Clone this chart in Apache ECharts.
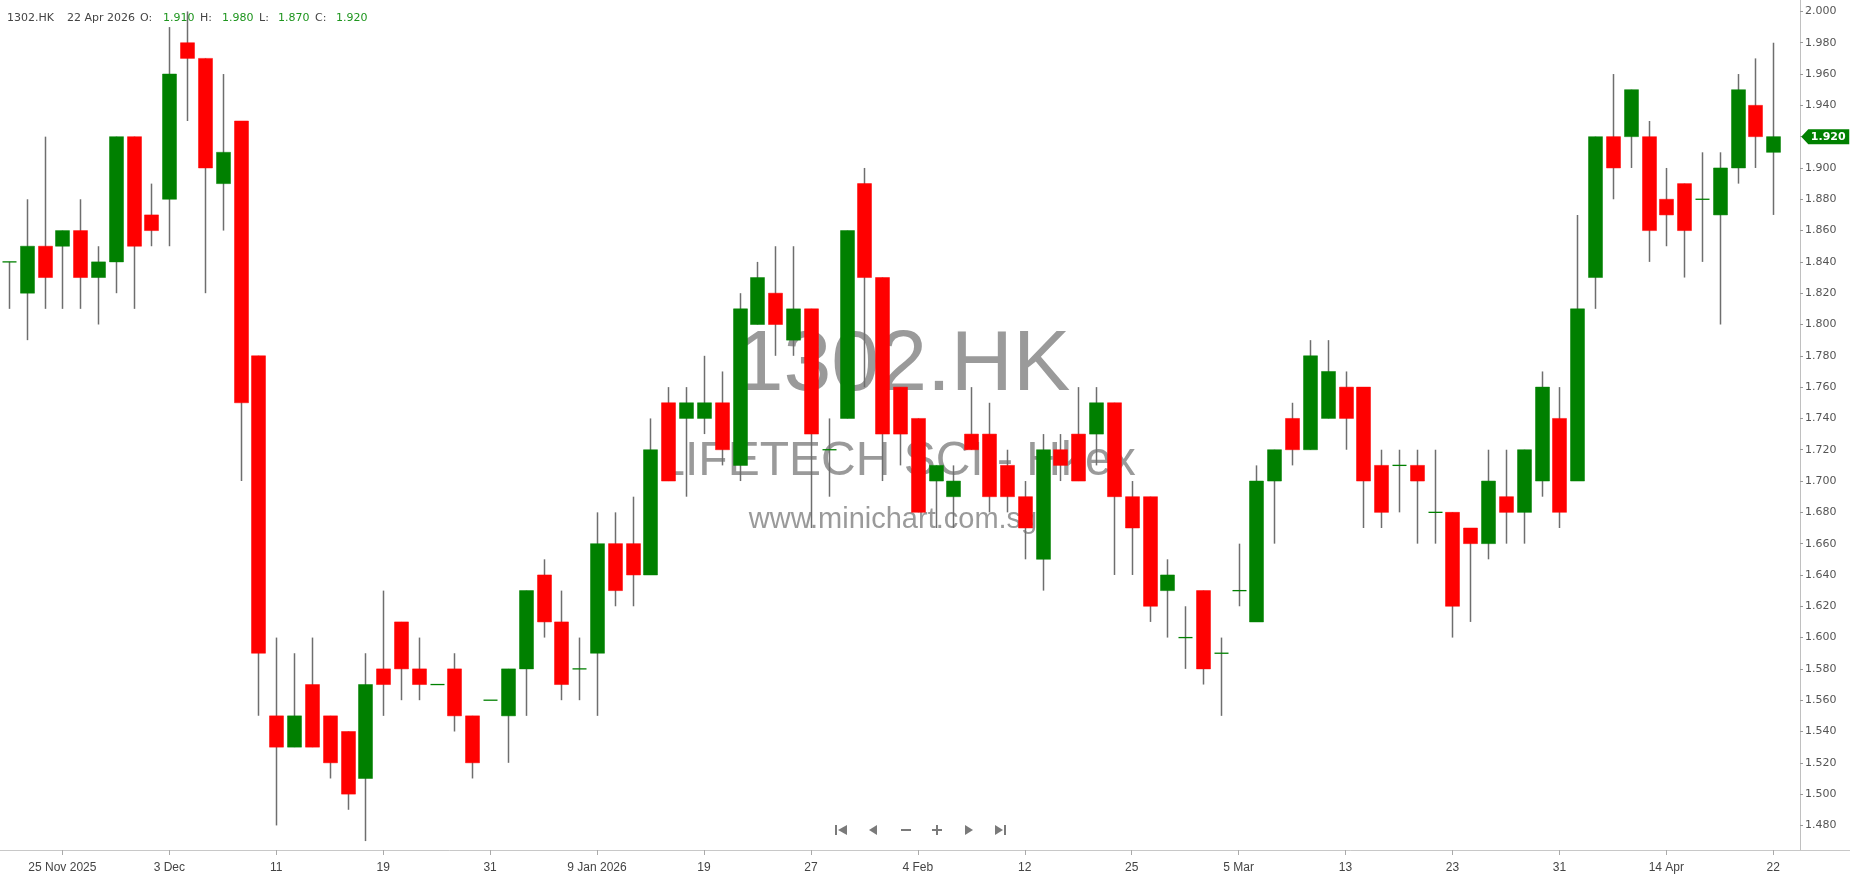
<!DOCTYPE html>
<html>
<head>
<meta charset="utf-8">
<script src="https://cdn.jsdelivr.net/npm/echarts@6/dist/echarts.min.js"></script>
<style>
html,body{margin:0;padding:0;background:#fff;}
#chart{width:1850px;height:874px;}
</style>
</head>
<body>
<div id="chart"></div>
<script>
const symbolName = '1302.HK';
const companyName = 'LIFETECH SCI - Hkex';
const siteName = 'www.minichart.com.sg';
const lastDateText = '22 Apr 2026';

const dates = [
 '2025-11-20','2025-11-21','2025-11-24','2025-11-25','2025-11-26','2025-11-27','2025-11-28','2025-12-01','2025-12-02','2025-12-03',
 '2025-12-04','2025-12-05','2025-12-08','2025-12-09','2025-12-10','2025-12-11','2025-12-12','2025-12-15','2025-12-16','2025-12-17',
 '2025-12-18','2025-12-19','2025-12-22','2025-12-23','2025-12-24','2025-12-29','2025-12-30','2025-12-31','2026-01-02','2026-01-05',
 '2026-01-06','2026-01-07','2026-01-08','2026-01-09','2026-01-12','2026-01-13','2026-01-14','2026-01-15','2026-01-16','2026-01-19',
 '2026-01-20','2026-01-21','2026-01-22','2026-01-23','2026-01-26','2026-01-27','2026-01-28','2026-01-29','2026-01-30','2026-02-02',
 '2026-02-03','2026-02-04','2026-02-05','2026-02-06','2026-02-09','2026-02-10','2026-02-11','2026-02-12','2026-02-13','2026-02-16',
 '2026-02-20','2026-02-23','2026-02-24','2026-02-25','2026-02-26','2026-02-27','2026-03-02','2026-03-03','2026-03-04','2026-03-05',
 '2026-03-06','2026-03-09','2026-03-10','2026-03-11','2026-03-12','2026-03-13','2026-03-16','2026-03-17','2026-03-18','2026-03-19',
 '2026-03-20','2026-03-23','2026-03-24','2026-03-25','2026-03-26','2026-03-27','2026-03-30','2026-03-31','2026-04-01','2026-04-02',
 '2026-04-08','2026-04-09','2026-04-13','2026-04-14','2026-04-15','2026-04-16','2026-04-17','2026-04-20','2026-04-21','2026-04-22'
];

const tickDates  = ['2025-11-25','2025-12-03','2025-12-11','2025-12-19','2025-12-31','2026-01-09','2026-01-19','2026-01-27','2026-02-04','2026-02-12','2026-02-25','2026-03-05','2026-03-13','2026-03-23','2026-03-31','2026-04-14','2026-04-22'];
const tickLabels = ['25 Nov 2025','3 Dec','11','19','31','9 Jan 2026','19','27','4 Feb','12','25','5 Mar','13','23','31','14 Apr','22'];

const yTicks = [1.48,1.50,1.52,1.54,1.56,1.58,1.60,1.62,1.64,1.66,1.68,1.70,1.72,1.74,1.76,1.78,1.80,1.82,1.84,1.86,1.88,1.90,1.92,1.94,1.96,1.98,2.00];

const open = [
 1.84,1.82,1.85,1.85,1.86,1.83,1.84,1.92,1.87,1.88,
 1.98,1.97,1.89,1.93,1.78,1.55,1.53,1.57,1.55,1.54,
 1.51,1.58,1.61,1.58,1.57,1.58,1.55,1.56,1.55,1.58,
 1.64,1.61,1.58,1.59,1.66,1.66,1.64,1.75,1.74,1.74,
 1.75,1.71,1.80,1.82,1.79,1.81,1.72,1.74,1.89,1.83,
 1.76,1.74,1.70,1.69,1.73,1.73,1.71,1.69,1.65,1.72,
 1.73,1.73,1.75,1.69,1.69,1.63,1.60,1.63,1.59,1.63,
 1.61,1.70,1.74,1.72,1.74,1.76,1.76,1.71,1.71,1.71,
 1.68,1.68,1.67,1.66,1.69,1.68,1.70,1.74,1.70,1.83,
 1.92,1.92,1.92,1.88,1.89,1.88,1.87,1.90,1.94,1.91
];
const high = [
 1.84,1.88,1.92,1.86,1.88,1.85,1.92,1.92,1.89,1.99,
 2.00,1.97,1.96,1.93,1.78,1.60,1.59,1.60,1.55,1.54,
 1.59,1.63,1.61,1.60,1.57,1.59,1.55,1.56,1.58,1.63,
 1.65,1.63,1.60,1.68,1.68,1.69,1.74,1.76,1.76,1.78,
 1.77,1.82,1.84,1.85,1.85,1.81,1.74,1.86,1.90,1.83,
 1.76,1.74,1.71,1.71,1.76,1.75,1.72,1.70,1.73,1.73,
 1.76,1.76,1.75,1.70,1.69,1.65,1.62,1.63,1.60,1.66,
 1.71,1.72,1.75,1.79,1.79,1.77,1.76,1.72,1.72,1.72,
 1.72,1.68,1.67,1.72,1.72,1.72,1.77,1.76,1.87,1.92,
 1.96,1.95,1.93,1.90,1.89,1.91,1.91,1.96,1.97,1.98
];
const low = [
 1.81,1.79,1.81,1.81,1.81,1.80,1.82,1.81,1.85,1.85,
 1.93,1.82,1.86,1.70,1.55,1.48,1.53,1.53,1.51,1.49,
 1.47,1.55,1.56,1.56,1.57,1.54,1.51,1.56,1.52,1.55,
 1.60,1.56,1.56,1.55,1.62,1.62,1.64,1.70,1.69,1.73,
 1.71,1.70,1.80,1.78,1.78,1.67,1.69,1.74,1.76,1.70,
 1.71,1.68,1.67,1.67,1.72,1.68,1.68,1.65,1.63,1.70,
 1.70,1.71,1.64,1.64,1.61,1.60,1.58,1.57,1.55,1.62,
 1.61,1.66,1.71,1.72,1.74,1.72,1.67,1.67,1.68,1.66,
 1.66,1.60,1.61,1.65,1.66,1.66,1.69,1.67,1.70,1.81,
 1.88,1.90,1.84,1.85,1.83,1.84,1.80,1.89,1.90,1.87
];
const close = [
 1.84,1.85,1.83,1.86,1.83,1.84,1.92,1.85,1.86,1.96,
 1.97,1.90,1.91,1.75,1.59,1.53,1.55,1.53,1.52,1.50,
 1.57,1.57,1.58,1.57,1.57,1.55,1.52,1.56,1.58,1.63,
 1.61,1.57,1.58,1.66,1.63,1.64,1.72,1.70,1.75,1.75,
 1.72,1.81,1.83,1.80,1.81,1.73,1.72,1.86,1.83,1.73,
 1.73,1.68,1.71,1.70,1.72,1.69,1.69,1.67,1.72,1.71,
 1.70,1.75,1.69,1.67,1.62,1.64,1.60,1.58,1.59,1.63,
 1.70,1.72,1.72,1.78,1.77,1.74,1.70,1.68,1.71,1.70,
 1.68,1.62,1.66,1.70,1.68,1.72,1.76,1.68,1.81,1.92,
 1.90,1.95,1.86,1.87,1.86,1.88,1.90,1.95,1.92,1.92
];

const UP = '#008000', DOWN = '#ff0000', WICK = '#6e6e6e';
const categories = dates.concat(['']);
const rows = dates.map((d, i) => [i, open[i], close[i], low[i], high[i]]);
const last = dates.length - 1;

function fmt(v){ return v.toFixed(3); }

const chart = echarts.init(document.getElementById('chart'), null, {renderer:'canvas'});

const navColor = '#7a7a7a';
const option = {
  animation: false,
  backgroundColor: '#fff',
  grid: {left: 0, right: 50, top: 0, bottom: 24, containLabel: false},
  xAxis: {
    type: 'category',
    data: categories,
    boundaryGap: true,
    axisLine: {show: true, lineStyle: {color: '#c8c8c8', width: 1}},
    axisTick: {
      show: true, alignWithLabel: true, length: 5,
      interval: (idx, val) => tickDates.indexOf(val) >= 0,
      lineStyle: {color: '#aaa'}
    },
    axisLabel: {
      interval: (idx, val) => tickDates.indexOf(val) >= 0,
      formatter: (val) => { const k = tickDates.indexOf(val); return k >= 0 ? tickLabels[k] : ''; },
      color: '#444', fontSize: 12, fontFamily: 'Liberation Sans', margin: 12
    },
    splitLine: {show: false}
  },
  yAxis: {
    type: 'value', position: 'right',
    min: 1.4643, max: 2.0073,
    axisLine: {show: true, lineStyle: {color: '#c0c0c0'}},
    axisTick: {show: true, customValues: yTicks, length: 3, lineStyle: {color: '#999'}},
    axisLabel: {customValues: yTicks, formatter: fmt, color: '#555', fontSize: 11, fontFamily: 'DejaVu Sans', margin: 5},
    splitLine: {show: false}
  },
  graphic: [
    {type:'text', z: 0, style:{text: symbolName, x: 903, y: 366, align:'center', verticalAlign:'middle', font: '86px "Liberation Sans"', fill: 'rgba(120,120,120,0.75)'}},
    {type:'text', z: 0, style:{text: companyName, x: 897, y: 462, align:'center', verticalAlign:'middle', font: '48px "Liberation Sans"', fill: 'rgba(120,120,120,0.75)'}},
    {type:'text', z: 0, style:{text: siteName, x: 893, y: 520, align:'center', verticalAlign:'middle', font: '29px "Liberation Sans"', fill: 'rgba(120,120,120,0.75)'}},
    {type:'text', style:{text: symbolName, x: 7, y: 18, verticalAlign:'middle', font: '11px "DejaVu Sans"', fill: '#444'}},
    {type:'text', style:{text: lastDateText, x: 67, y: 18, verticalAlign:'middle', font: '11px "DejaVu Sans"', fill: '#444'}},
    {type:'text', style:{text: 'O:', x: 140, y: 18, verticalAlign:'middle', font: '11px "DejaVu Sans"', fill: '#444'}},
    {type:'text', style:{text: fmt(open[last]), x: 163, y: 18, verticalAlign:'middle', font: '11px "DejaVu Sans"', fill: '#1e951e'}},
    {type:'text', style:{text: 'H:', x: 200, y: 18, verticalAlign:'middle', font: '11px "DejaVu Sans"', fill: '#444'}},
    {type:'text', style:{text: fmt(high[last]), x: 222, y: 18, verticalAlign:'middle', font: '11px "DejaVu Sans"', fill: '#1e951e'}},
    {type:'text', style:{text: 'L:', x: 259, y: 18, verticalAlign:'middle', font: '11px "DejaVu Sans"', fill: '#444'}},
    {type:'text', style:{text: fmt(low[last]), x: 278, y: 18, verticalAlign:'middle', font: '11px "DejaVu Sans"', fill: '#1e951e'}},
    {type:'text', style:{text: 'C:', x: 315, y: 18, verticalAlign:'middle', font: '11px "DejaVu Sans"', fill: '#444'}},
    {type:'text', style:{text: fmt(close[last]), x: 336, y: 18, verticalAlign:'middle', font: '11px "DejaVu Sans"', fill: '#1e951e'}},
    {type:'line', shape:{x1: 1800, y1: 850.5, x2: 1850, y2: 850.5}, style:{stroke:'#c8c8c8', lineWidth:1}},
    // navigation buttons
    {type:'rect', shape:{x: 835, y: 825, width: 2, height: 10}, style:{fill: navColor}},
    {type:'polygon', shape:{points:[[847,825],[847,835],[838,830]]}, style:{fill: navColor}},
    {type:'polygon', shape:{points:[[877,825],[877,835],[869,830]]}, style:{fill: navColor}},
    {type:'rect', shape:{x: 901, y: 829, width: 10, height: 2}, style:{fill: navColor}},
    {type:'rect', shape:{x: 932, y: 829, width: 10, height: 2}, style:{fill: navColor}},
    {type:'rect', shape:{x: 936, y: 825, width: 2, height: 10}, style:{fill: navColor}},
    {type:'polygon', shape:{points:[[965,825],[965,835],[973,830]]}, style:{fill: navColor}},
    {type:'polygon', shape:{points:[[995,825],[995,835],[1003,830]]}, style:{fill: navColor}},
    {type:'rect', shape:{x: 1004, y: 825, width: 2, height: 10}, style:{fill: navColor}}
  ],
  series: [{
    type: 'custom',
    z: 5,
    data: rows,
    encode: {x: 0, y: [1, 2, 3, 4]},
    clip: false,
    renderItem: function (params, api) {
      const idx = api.value(0);
      const o = api.value(1), c = api.value(2), l = api.value(3), h = api.value(4);
      const po = api.coord([idx, o]);
      const pc = api.coord([idx, c]);
      const pl = api.coord([idx, l]);
      const ph = api.coord([idx, h]);
      const x = Math.round(po[0]) + 0.5;
      const bw = 14;
      const up = c >= o;
      const col = up ? UP : DOWN;
      const children = [];
      if (h !== l) {
        children.push({type: 'line', shape: {x1: x, y1: ph[1], x2: x, y2: pl[1]}, style: {stroke: WICK, lineWidth: 1.5}});
      }
      if (o === c) {
        children.push({type: 'line', shape: {x1: x - bw / 2, y1: po[1], x2: x + bw / 2, y2: po[1]}, style: {stroke: col, lineWidth: 1.3}});
      } else {
        const top = Math.min(po[1], pc[1]);
        const ht = Math.abs(po[1] - pc[1]);
        children.push({type: 'rect', shape: {x: x - bw / 2, y: top, width: bw, height: ht}, style: {fill: col, stroke: col, lineWidth: 0.5}});
      }
      return {type: 'group', children: children};
    },
    markPoint: {
      silent: true,
      symbol: 'path://M0,8 L7,0 L48,0 L48,16 L7,16 Z',
      symbolSize: [48, 15],
      symbolKeepAspect: false,
      symbolOffset: [52, 0],
      itemStyle: {color: UP},
      label: {show: true, position: 'inside', formatter: () => fmt(close[last]), color: '#fff', fontSize: 11, fontWeight: 'bold', fontFamily: 'DejaVu Sans', offset: [3, 0]},
      data: [{coord: [dates[last], close[last]]}]
    }
  }]
};
chart.setOption(option);
</script>
</body>
</html>
